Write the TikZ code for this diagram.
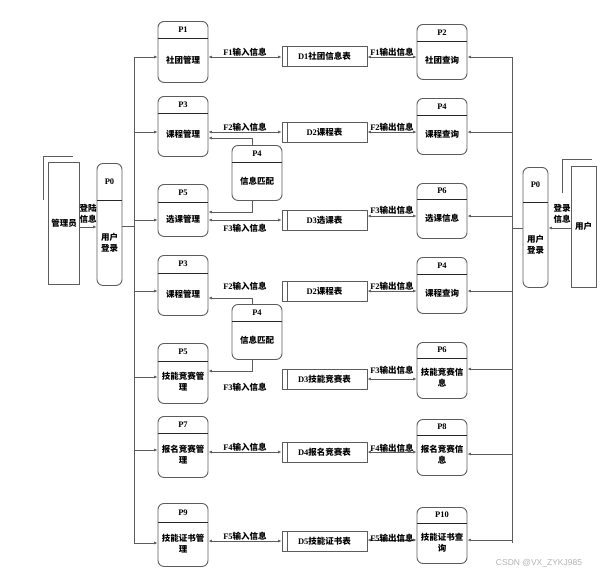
\documentclass[tikz,border=0pt]{standalone}
\usepackage{fontspec}
\setmainfont{Liberation Serif}
\newfontfamily\cjk{Noto Sans CJK SC}
\newfontfamily\wmfont{Liberation Sans}
\usetikzlibrary{arrows.meta}
\definecolor{lnc}{HTML}{5C5C5C}
\newcommand{\zh}[1]{{\cjk #1}}
\tikzset{
  dfdfont/.style  = {font=\fontsize{8.5}{11}\selectfont\bfseries},
  wire/.style     = {draw=lnc, line width=0.9pt},
  flow/.style     = {wire, -{Latex[length=3.5pt,width=3pt]}},
  dflow/.style    = {wire, {Latex[length=3.5pt,width=3pt]}-{Latex[length=3.5pt,width=3pt]}},
  procbox/.style  = {draw=lnc, line width=0.9pt, rounded corners=6pt, inner sep=0pt},
  divline/.style  = {draw=black!85, line width=0.8pt},
  idtext/.style   = {inner sep=0pt},
  proctext/.style = {inner sep=0pt, align=center},
  flowtext/.style = {inner sep=0.5pt},
  entity/.style   = {draw=lnc, line width=0.9pt, inner sep=0pt},
  storebox/.style = {draw=lnc, line width=0.9pt, minimum width=85pt, minimum height=20pt,
                     inner sep=0pt,
                     path picture={\draw[lnc, line width=0.8pt]
                       ([xshift=5pt]path picture bounding box.north west) --
                       ([xshift=5pt]path picture bounding box.south west);}}
}
% name, centre x, half width, top, bottom, divider, id, text
\newcommand{\procnode}[8]{%
  \node[procbox, anchor=north, minimum width={2*#3*1pt}, minimum height={(#5-#4)*1pt}] (#1) at (#2,#4) {};
  \draw[divline] (#2-#3,#6) -- (#2+#3,#6);
  \node[idtext] (#1-id) at (#2,{(#4+#6)/2}) {#7};
  \node[proctext] (#1-tx) at (#2,{(#6+#5)/2}) {#8};
}

\begin{document}
\begin{tikzpicture}[x=1pt, y=-1pt, dfdfont]
  \useasboundingbox (0,0) rectangle (612,574);

  % external entities and login
  \draw[wire] (43,200) -- (43,156) -- (73,156);
  \node[entity, minimum width=31pt, minimum height=122pt] (admin) at (64,223) {\zh{管理员}};
  \draw[wire] (562,193) -- (562,159) -- (592,159);
  \node[entity, minimum width=25pt, minimum height=121pt] (user) at (583.5,226.5) {\zh{用户}};
  \procnode{P0l}{109.5}{12.5}{163}{285}{200}{P0}{\zh{用户}\\\zh{登录}}
  \procnode{P0r}{535.5}{12.5}{167}{287}{202}{P0}{\zh{用户}\\\zh{登录}}
  \draw[flow] (admin.east |- 0,227) -- (P0l.west |- 0,227);
  \draw[flow] (user.west |- 0,228) -- (P0r.east |- 0,228);
  \node[proctext] (loginl) at (88,214) {\zh{登陆}\\\zh{信息}};
  \node[proctext] (loginr) at (562,214) {\zh{登录}\\\zh{信息}};

  % processes, left column
  \procnode{P1}{183}{25}{21}{82}{38}{P1}{\zh{社团管理}}
  \procnode{P3a}{183}{25}{96}{156}{113}{P3}{\zh{课程管理}}
  \procnode{P5a}{183}{25}{184}{236}{202}{P5}{\zh{选课管理}}
  \procnode{P3b}{183}{25}{255}{315}{273}{P3}{\zh{课程管理}}
  \procnode{P5b}{183}{25}{343}{403}{361}{P5}{\zh{技能竞赛管}\\\zh{理}}
  \procnode{P7}{183}{25}{416}{477}{433}{P7}{\zh{报名竞赛管}\\\zh{理}}
  \procnode{P9}{183}{25}{503}{566}{522}{P9}{\zh{技能证书管}\\\zh{理}}

  % processes, right column
  \procnode{P2}{442}{25}{24}{79}{41}{P2}{\zh{社团查询}}
  \procnode{P4r}{442}{25}{98}{154}{115}{P4}{\zh{课程查询}}
  \procnode{P6r}{442}{25}{183}{238}{199}{P6}{\zh{选课信息}}
  \procnode{P4s}{442}{25}{257}{313}{274}{P4}{\zh{课程查询}}
  \procnode{P6s}{442}{25}{342}{398}{358}{P6}{\zh{技能竞赛信}\\\zh{息}}
  \procnode{P8}{442}{25}{419}{475}{435}{P8}{\zh{报名竞赛信}\\\zh{息}}
  \procnode{P10}{442}{25}{507}{563}{523}{P10}{\zh{技能证书查}\\\zh{询}}

  % matching
  \procnode{M1}{257}{25}{145}{200}{162}{P4}{\zh{信息匹配}}
  \procnode{M2}{257}{25}{304}{359}{321}{P4}{\zh{信息匹配}}
  \draw[flow] ([xshift=-5pt]M1.north) |- (P3a.east |- 0,138);
  \draw[flow] ([xshift=-5pt]M1.south) |- (P5a.east |- 0,212);
  \draw[flow] ([xshift=-5pt]M2.north) |- (P3b.east |- 0,298);
  \draw[flow] ([xshift=-5pt]M2.south) |- (P5b.east |- 0,371);

  % data stores
  \node[storebox] (D1) at (324.5,56.5) {D1\zh{社团信息表}};
  \node[storebox] (D2a) at (324.5,132) {D2\zh{课程表}};
  \node[storebox] (D3a) at (324.5,220) {D3\zh{选课表}};
  \node[storebox] (D2b) at (324.5,291) {D2\zh{课程表}};
  \node[storebox] (D3b) at (324.5,379) {D3\zh{技能竞赛表}};
  \node[storebox] (D4) at (324.5,452) {D4\zh{报名竞赛表}};
  \node[storebox] (D5) at (324.5,541) {D5\zh{技能证书表}};

  % flows between processes and stores
  \foreach \p/\d/\y in {P1/D1/57, P3a/D2a/132, P5a/D3a/220, P7/D4/452, P9/D5/541}
    \draw[dflow] (\p.east |- 0,\y) -- (\d.west |- 0,\y);
  \foreach \d/\p/\y in {D1/P2/57, D2a/P4r/132, D3a/P6r/216, D2b/P4s/291,
                        D3b/P6s/379, D4/P8/452, D5/P10/540}
    \draw[dflow] (\d.east |- 0,\y) -- (\p.west |- 0,\y);

  % flow labels
  \foreach \n/\x/\y/\t in {fi1/245/52/F1, fi2/245/127/F2, fi3/245/228/F3, fi4/245/286/F2,
                           fi5/245/387/F3, fi6/245/447/F4, fi7/245/536/F5}
    \node[flowtext] (\n) at (\x,\y) {\t\zh{输入信息}};
  \foreach \n/\x/\y/\t in {fo1/392/52/F1, fo2/392/127/F2, fo3/392/210/F3, fo4/392/286/F2,
                           fo5/392/370/F3, fo6/392/448/F4, fo7/392/538/F5}
    \node[flowtext] (\n) at (\x,\y) {\t\zh{输出信息}};

  % left bus
  \foreach \p/\y in {P1/57, P3a/132, P5a/220, P3b/291, P5b/377, P7/450, P9/543}
    \coordinate (lb-\p) at (134,\y);
  \draw[wire] (lb-P1) -- (lb-P9);
  \foreach \p in {P1, P3a, P5a, P3b, P5b, P7, P9}
    \draw[flow] (lb-\p) -- (lb-\p -| \p.west);
  \coordinate (lb-P0) at (134,226);
  \draw[wire] (P0l.east |- lb-P0) -- (lb-P0);

  % right bus
  \foreach \p/\y in {P2/57, P4r/132, P6r/216, P4s/291, P6s/369, P8/454, P10/540}
    \coordinate (rb-\p) at (512,\y);
  \coordinate (rb-end) at (512,543);
  \draw[wire] (rb-P2) -- (rb-end);
  \foreach \p in {P2, P4r, P6r, P4s, P6s, P8, P10}
    \draw[flow] (rb-\p) -- (rb-\p -| \p.east);
  \coordinate (rb-P0) at (512,228);
  \draw[wire] (P0r.west |- rb-P0) -- (rb-P0);

  \node[font=\fontsize{8.5}{10}\wmfont, text=black!30] (wm) at (539,563) {CSDN @VX\_ZYKJ985};
\end{tikzpicture}
\end{document}
